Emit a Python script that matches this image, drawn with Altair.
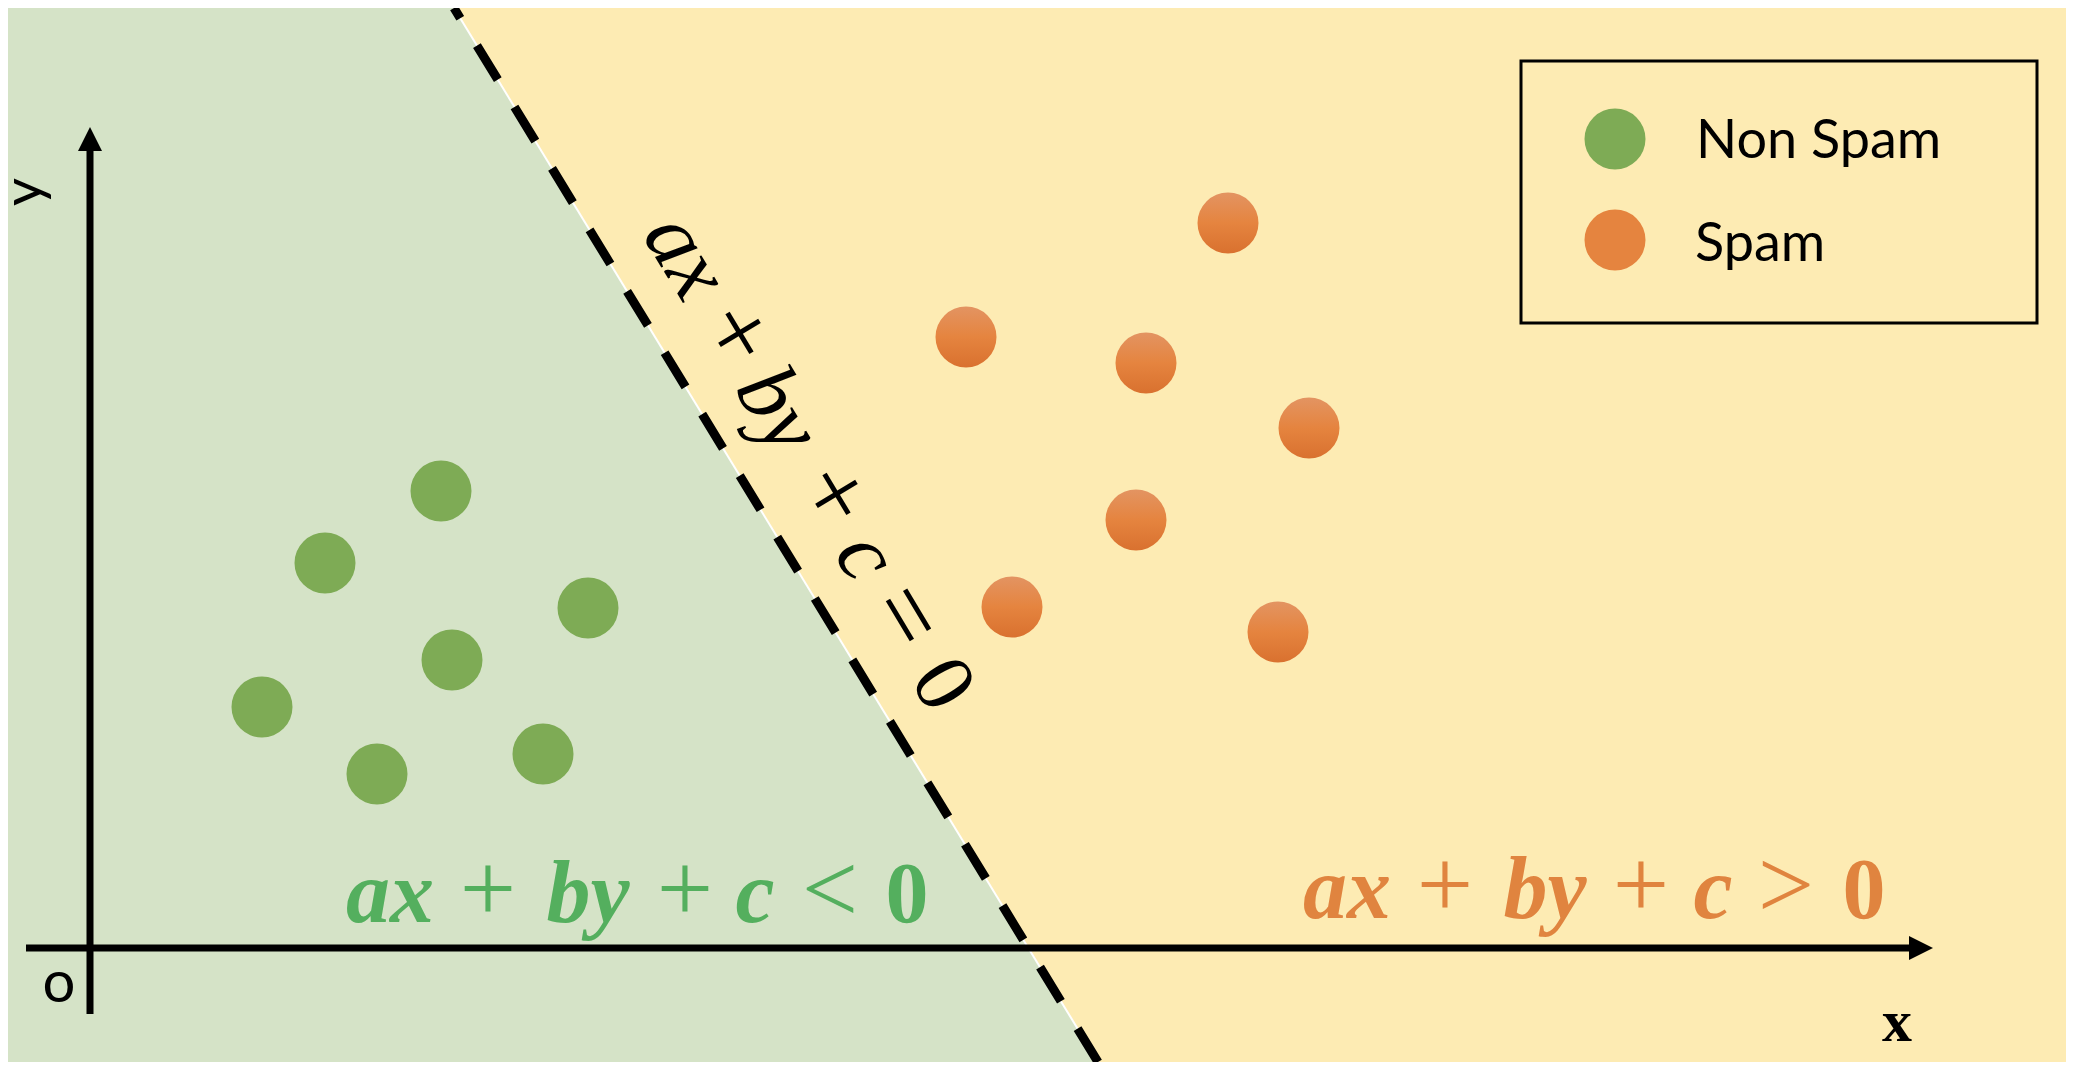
import altair as alt
import pandas as pd

# ---- data (units: pixels relative to the axes origin, y up) ----
green_x = [351, 235, 498, 362, 172, 287, 453]
green_y = [457, 385, 340, 288, 241, 174, 194]
orange_x = [1138, 876, 1056, 1219, 1046, 922, 1188]
orange_y = [725, 611, 585, 520, 428, 341, 316]

boundary_x = [364, 1008]
boundary_y = [940, -114]

x_domain = [-82, 1976]
y_domain = [-114, 940]

axis_x = [0, -64]
axis_x2 = [0, 1831]
axis_y = [-66, 0]
axis_y2 = [809, 0]
arrow_x = [0, 1831]
arrow_y = [809, 0]
arrow_angle = [0, 90]

legend_labels = ["Non Spam", "Spam"]
legend_sym_x = [1525, 1525]
legend_sym_y = [809, 708]
legend_lab_x = [1606, 1605]
legend_lab_y = [790, 687]
legend_box = {"x": [1431], "x2": [1947], "y": [887], "y2": [625]}

# equation pieces: (text, kind) kind: L = letters (italic), O = operator, D = digit
line_parts = ["ax", "+", "by", "+", "c", "=", "0"]
line_kind = ["L", "O", "L", "O", "L", "O", "D"]
line_px = [573, 621, 665, 718, 753, 790, 830]
line_py = [678, 598, 524, 437, 378, 316, 250]

neg_parts = ["ax", "+", "by", "+", "c", "<", "0"]
pos_parts = ["ax", "+", "by", "+", "c", ">", "0"]
ineq_kind = ["L", "O", "L", "O", "L", "O", "D"]
neg_px = [300, 398, 498, 595, 665, 740, 817]
neg_py = [26] * 7
pos_px = [1257, 1355, 1455, 1551, 1623, 1696, 1774]
pos_py = [30] * 7

# ---- colours ----
YELLOW_BG = "#FDEBB3"
GREEN_BG = "#D5E3C7"
GREEN_DOT = "#7EAB55"
GREEN_TXT = "#54AF5E"
ORANGE_TXT = "#E0843F"

xs = alt.Scale(domain=x_domain, nice=False, zero=False)
ys = alt.Scale(domain=y_domain, nice=False, zero=False)


def X(f):
    return alt.X(f, type="quantitative", scale=xs, axis=None)


def Y(f):
    return alt.Y(f, type="quantitative", scale=ys, axis=None)


region = pd.DataFrame({"y": boundary_y, "xl": [x_domain[0]] * 2, "xb": boundary_x})
boundary = pd.DataFrame({"x": boundary_x, "y": boundary_y})
axes = pd.DataFrame({"x": axis_x, "x2": axis_x2, "y": axis_y, "y2": axis_y2})
arrows = pd.DataFrame({"x": arrow_x, "y": arrow_y, "a": arrow_angle})
green = pd.DataFrame({"x": green_x, "y": green_y, "cls": "Non Spam"})
orange = pd.DataFrame({"x": orange_x, "y": orange_y, "cls": "Spam"})
leg_sym = pd.DataFrame({"x": legend_sym_x, "y": legend_sym_y, "cls": legend_labels})
leg_lab = pd.DataFrame({"x": legend_lab_x, "y": legend_lab_y, "t": legend_labels})
leg_box = pd.DataFrame(legend_box)

green_area = alt.Chart(region).mark_area(orient="horizontal", color=GREEN_BG).encode(
    y=Y("y"), x=X("xl"), x2="xb"
)
white_edge = alt.Chart(boundary).mark_line(color="white", strokeWidth=2).encode(x=X("x"), y=Y("y"))
dashed = alt.Chart(boundary).mark_line(
    color="black", strokeWidth=9, strokeDash=[40, 32], strokeDashOffset=28
).encode(x=X("x"), y=Y("y"))

axis_lines = alt.Chart(axes).mark_rule(color="black", strokeWidth=7).encode(
    x=X("x"), x2="x2", y=Y("y"), y2="y2"
)
arrow_heads = alt.Chart(arrows).mark_point(
    shape="M0,-1L1,1L-1,1Z", filled=True, color="black", size=576, opacity=1
).encode(x=X("x"), y=Y("y"), angle=alt.Angle("a:Q", scale=None))

orange_grad = alt.Gradient(
    gradient="linear",
    x1=0, y1=0, x2=0, y2=1,
    stops=[
        alt.GradientStop(color="#E39462", offset=0),
        alt.GradientStop(color="#E5843F", offset=0.5),
        alt.GradientStop(color="#D9712F", offset=1),
    ],
)

green_pts = alt.Chart(green).mark_circle(size=3721, opacity=1, color=GREEN_DOT).encode(
    x=X("x"), y=Y("y")
)
orange_pts = alt.Chart(orange).mark_circle(size=3721, opacity=1, fill=orange_grad).encode(
    x=X("x"), y=Y("y")
)


def equation(parts, kinds, px, py, color, bold, angle):
    df = pd.DataFrame({"t": parts, "k": kinds, "x": px, "y": py})
    styles = {
        "L": dict(font="Liberation Serif", fontStyle="italic", fontSize=88,
                  fontWeight="bold" if bold else "normal"),
        "O": dict(font="Liberation Serif", fontSize=100),
        "D": dict(font="Liberation Serif", fontSize=86,
                  fontWeight="bold" if bold else "normal"),
    }
    layers = []
    for k, st in styles.items():
        layers.append(
            alt.Chart(df).transform_filter(alt.datum.k == k).mark_text(
                align="center", baseline="alphabetic", color=color, angle=angle, **st
            ).encode(x=X("x"), y=Y("y"), text="t:N")
        )
    return layers


eq_line_layers = equation(line_parts, line_kind, line_px, line_py, "black", False, 59)
eq_neg_layers = equation(neg_parts, ineq_kind, neg_px, neg_py, GREEN_TXT, True, 0)
eq_pos_layers = equation(pos_parts, ineq_kind, pos_px, pos_py, ORANGE_TXT, True, 0)

lab_y = alt.Chart(pd.DataFrame({"x": [-64], "y": [756], "t": ["y"]})).mark_text(
    font="Lato", fontSize=54, angle=270, align="center", baseline="middle", color="black"
).encode(x=X("x"), y=Y("y"), text="t:N")

lab_o = alt.Chart(pd.DataFrame({"x": [-31], "y": [-54], "t": ["o"]})).mark_text(
    font="Lato", fontSize=58, align="center", baseline="alphabetic", color="black"
).encode(x=X("x"), y=Y("y"), text="t:N")

lab_x = alt.Chart(pd.DataFrame({"x": [1807], "y": [-93], "t": ["x"]})).mark_text(
    font="Liberation Serif", fontSize=60, fontWeight="bold", align="center",
    baseline="alphabetic", color="black"
).encode(x=X("x"), y=Y("y"), text="t:N")

legend_frame = alt.Chart(leg_box).mark_rect(fillOpacity=0, stroke="black", strokeWidth=3).encode(
    x=X("x"), x2="x2", y=Y("y"), y2="y2"
)
legend_syms = alt.Chart(leg_sym).mark_circle(size=3721, opacity=1).encode(
    x=X("x"), y=Y("y"),
    color=alt.Color("cls:N", scale=alt.Scale(domain=legend_labels, range=[GREEN_DOT, "#E5843F"]), legend=None),
)
legend_labs = alt.Chart(leg_lab).mark_text(
    font="Lato", fontSize=54, align="left", baseline="alphabetic", color="black"
).encode(x=X("x"), y=Y("y"), text="t:N")

chart = alt.layer(
    green_area, white_edge, dashed, axis_lines, arrow_heads,
    green_pts, orange_pts,
    *eq_line_layers, *eq_neg_layers, *eq_pos_layers,
    lab_y, lab_o, lab_x,
    legend_frame, legend_syms, legend_labs,
).properties(
    width=2058, height=1054, padding=0, autosize="none", background=YELLOW_BG
).configure_view(strokeWidth=0)

chart.save("out.html", embed_options={"renderer": "svg", "actions": False})
